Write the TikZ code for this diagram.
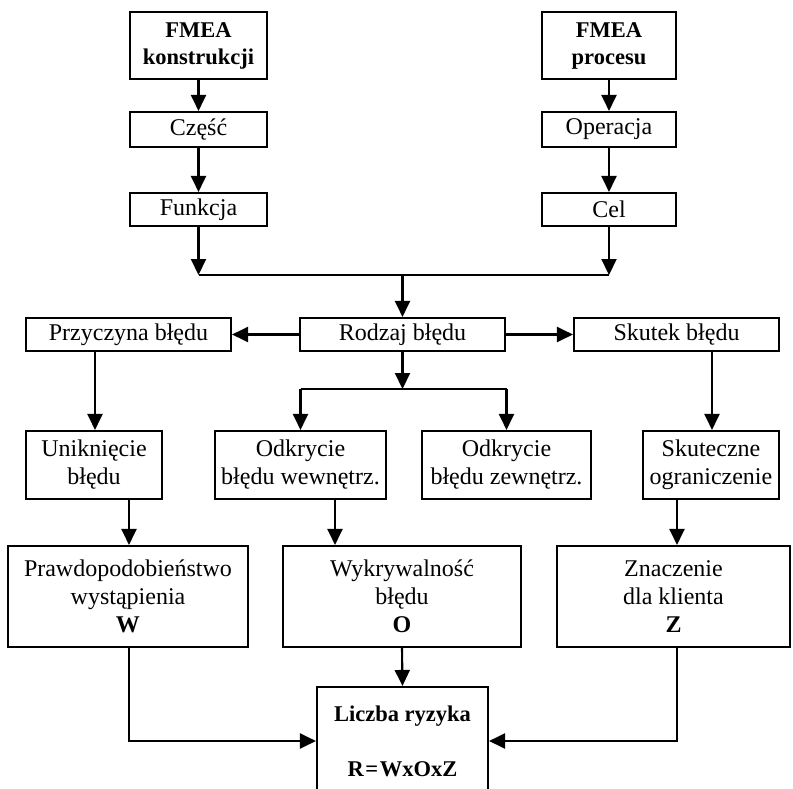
\documentclass[tikz,border=0pt]{standalone}
\usepackage{fontspec}
\setmainfont{Liberation Serif}
\usetikzlibrary{arrows.meta}
\begin{document}
\begin{tikzpicture}[x=1pt,y=-1pt,
  box/.style={draw, line width=2.1pt, inner sep=0pt, align=center, font=\fontsize{24}{28}\selectfont},
  bbox/.style={box, font=\fontsize{22.5}{27}\selectfont\bfseries},
  conn/.style={line width=2.1pt, -{Triangle[length=16pt,width=15pt]}},
  wire/.style={line width=2.1pt}]
\useasboundingbox (0,0) rectangle (793,788);
\fill[white] (0,0) rectangle (793,788);
\clip (0,0) rectangle (793,788);

% top left column
\node[bbox, minimum width=137pt, minimum height=67pt] (fk) at (198.5,45.5) {FMEA\\konstrukcji};
\node[box, minimum width=137pt, minimum height=35pt] (czesc) at (198.5,129.5) {Część};
\node[box, minimum width=137pt, minimum height=33pt] (funk) at (198.5,209.5) {Funkcja};
% top right column
\node[bbox, minimum width=134pt, minimum height=67pt] (fp) at (609,45.5) {FMEA\\procesu};
\node[box, minimum width=134pt, minimum height=35pt] (oper) at (609,129.5) {Operacja};
\node[box, minimum width=134pt, minimum height=33pt] (cel) at (609,209.5) {Cel};
% middle row
\node[box, minimum width=205pt, minimum height=33pt] (rodzaj) at (402.5,334.5) {Rodzaj błędu};
\node[box, minimum width=205pt, minimum height=33pt] (przy) at (128.5,334.5) {Przyczyna błędu};
\node[box, minimum width=205pt, minimum height=33pt] (skutek) at (676.5,334.5) {Skutek błędu};
% fourth row
\node[box, minimum width=136pt, minimum height=68pt] (unik) at (94,465) {Uniknięcie\\błędu};
\node[box, minimum width=171pt, minimum height=68pt] (odkw) at (300.5,465) {Odkrycie\\błędu wewnętrz.};
\node[box, minimum width=169pt, minimum height=68pt] (odkz) at (506.5,465) {Odkrycie\\błędu zewnętrz.};
\node[box, minimum width=136pt, minimum height=68pt] (skut2) at (711,465) {Skuteczne\\ograniczenie};
% fifth row
\node[box, minimum width=240pt, minimum height=101pt] (praw) at (128,596.5) {Prawdopodobieństwo\\wystąpienia\\\textbf{W}};
\node[box, minimum width=238pt, minimum height=101pt] (wykr) at (402,596.5) {Wykrywalność\\błędu\\\textbf{O}};
\node[box, minimum width=233pt, minimum height=101pt] (znacz) at (673.5,596.5) {Znaczenie\\dla klienta\\\textbf{Z}};
% bottom
\node[bbox, minimum width=171pt, minimum height=108pt] (liczba) at (402.5,741) {Liczba ryzyka\\[28pt]R\hspace{1.5pt}=\hspace{1.5pt}WxOxZ};

% helper coordinates
\coordinate (jl) at (198.5,275);
\coordinate (jr) at (609,275);
\coordinate (jm) at (402.5,275);
\coordinate (bm) at (402.5,389);
\coordinate (bl) at (300.5,389);
\coordinate (br) at (506.5,389);
\coordinate (ow) at (335,0);
\coordinate (pw) at (129,0);
\coordinate (pp) at (95,0);
\coordinate (sz) at (677,0);
\coordinate (ss) at (712,0);

% connectors
\draw[conn] (fk) -- (czesc);
\draw[conn] (czesc) -- (funk);
\draw[conn] (funk) -- (jl);
\draw[conn] (fp) -- (oper);
\draw[conn] (oper) -- (cel);
\draw[conn] (cel) -- (jr);
\draw[wire] (jl) -- (jr);
\draw[conn] (jm) -- (rodzaj);
\draw[conn] (rodzaj.west) -- (przy.east);
\draw[conn] (rodzaj.east) -- (skutek.west);
\draw[conn] (rodzaj) -- (bm);
\draw[wire] (bl) -- (br);
\draw[conn] (bl) -- (odkw);
\draw[conn] (br) -- (odkz);
\draw[conn] (przy.south -| pp) -- (unik.north -| pp);
\draw[conn] (skutek.south -| ss) -- (skut2.north -| ss);
\draw[conn] (unik.south -| pw) -- (praw.north -| pw);
\draw[conn] (odkw.south -| ow) -- (wykr.north -| ow);
\draw[conn] (skut2.south -| sz) -- (znacz.north -| sz);
\draw[conn] (praw.south -| pw) |- (liczba.west);
\draw[conn] (wykr.south) -- (liczba.north);
\draw[conn] (znacz.south -| sz) |- (liczba.east);
\end{tikzpicture}
\end{document}
